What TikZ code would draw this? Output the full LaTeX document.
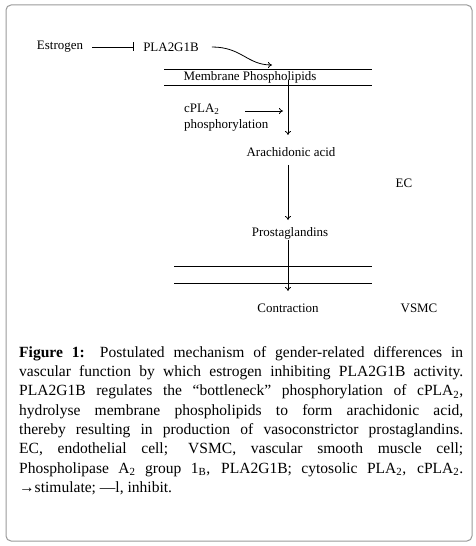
\documentclass[tikz,border=0pt]{standalone}
\usepackage{fontspec}
\setmainfont{Liberation Serif}
\usetikzlibrary{arrows.meta}
\begin{document}
\begin{tikzpicture}[x=1bp,y=-1bp,
  lbl/.style={inner sep=0pt,font=\fontsize{13}{15}\selectfont},
  arr/.style={-{To[length=4bp,width=6bp]},line width=0.8bp},
  inh/.style={-{Bar[width=9bp]},line width=0.8bp},
  memline/.style={line width=0.8bp}]
\useasboundingbox (0,0) rectangle (476,546);
\draw[gray!80,line width=1bp,rounded corners=5bp] (6,5) rectangle (472,541);
% nodes
\node[lbl] (estr) at (60,47) {Estrogen};
\node[lbl] (pla) at (171,47) {PLA2G1B};
\node[lbl] (mem) at (250,77) {Membrane Phospholipids};
\node[lbl,anchor=west,align=left,font=\fontsize{13}{16}\selectfont] (cpla) at (184,118) {cPLA\textsubscript{2}\\phosphorylation};
\node[lbl] (arach) at (291,152) {Arachidonic acid};
\node[lbl] (ec) at (404,183) {EC};
\node[lbl] (prost) at (290,233) {Prostaglandins};
\node[lbl] (contr) at (288,308) {Contraction};
\node[lbl] (vsmc) at (419,308) {VSMC};
% coordinates
\coordinate (memtip) at (272,65);
\coordinate (memout) at (288,80);
\coordinate (memin) at (288,135);
\coordinate (cplaend) at (283,111);
\coordinate (cplastart) at (245,111);
\coordinate (aout) at (288,165);
\coordinate (pin) at (288,220);
\coordinate (pout) at (288,240);
\coordinate (cin) at (288,291);
% membranes
\draw[memline] (164,69) -- (372,69);
\draw[memline] (164,85) -- (372,85);
\draw[memline] (174,266) -- (372,266);
\draw[memline] (174,283) -- (372,283);
% connectors
\draw[inh,shorten <=9bp,shorten >=9bp] (estr.east) -- (pla.west);
\draw[arr] ([xshift=13bp]pla.east) .. controls +(30,0) and +(-25,0) .. (memtip);
\draw[arr] (memout) -- (memin);
\draw[arr] (cplastart) -- (cplaend);
\draw[arr] (aout) -- (pin);
\draw[arr] (pout) -- (cin);
% caption
\node[inner sep=0pt,anchor=north west,text width=444bp,align=justify,
      font=\fontsize{15.6}{19.4}\selectfont] (cap) at (19,346)
{\textbf{Figure 1:} Postulated mechanism of gender-related differences in\linebreak
vascular function by which estrogen inhibiting PLA2G1B activity.\linebreak
PLA2G1B regulates the “bottleneck” phosphorylation of cPLA\textsubscript{2},\linebreak
hydrolyse membrane phospholipids to form arachidonic acid,\linebreak
thereby resulting in production of vasoconstrictor prostaglandins.\linebreak
EC, endothelial cell; VSMC, vascular smooth muscle cell;\linebreak
Phospholipase A\textsubscript{2} group 1\textsubscript{B}, PLA2G1B; cytosolic PLA\textsubscript{2}, cPLA\textsubscript{2}.\linebreak
→stimulate; —l, inhibit.};
\end{tikzpicture}
\end{document}
